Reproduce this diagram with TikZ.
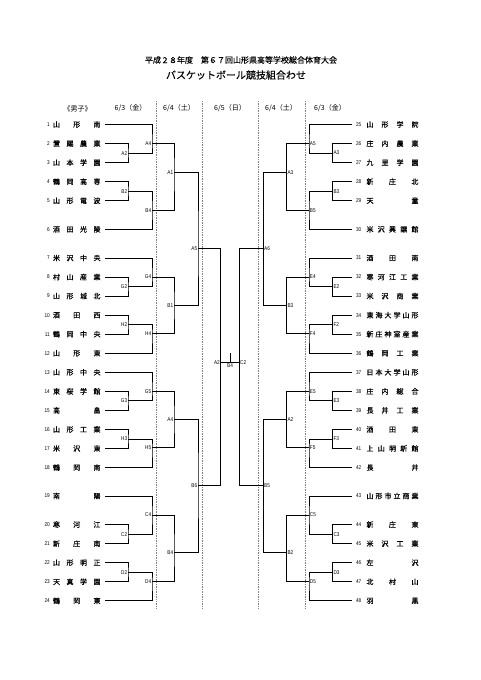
\documentclass[tikz,border=0pt]{standalone}
\usepackage{fontspec}
\newfontfamily\jp{Noto Sans CJK JP}
\newfontfamily\jpb[FakeBold=0.35]{Noto Sans CJK JP}
\newfontfamily\labf[FakeStretch=0.85]{Liberation Sans}
\makeatletter
\newcommand\spreadtext[1]{\let\sp@sep\relax\@tfor\sp@c:=#1\do{\sp@sep\sp@c\let\sp@sep\hfill}}
\makeatother
\tikzset{
  conn/.style={line width=0.9pt, black},
  sepline/.style={gray, densely dotted, line width=0.7pt},
  numL/.style={font=\labf\fontsize{5.5}{6}\selectfont, anchor=east, inner sep=0pt},
  numR/.style={font=\labf\fontsize{5.5}{6}\selectfont, anchor=west, inner sep=0pt, outer xsep=4.3pt, outer ysep=0pt},
  nameL/.style={font=\jpb\fontsize{7}{7}\selectfont, inner sep=0pt, outer xsep=4.25pt, outer ysep=0pt},
  nameR/.style={font=\jpb\fontsize{7}{7}\selectfont, inner sep=0pt},
  jlabL/.style={font=\labf\fontsize{5.5}{6}\selectfont, inner sep=0.4pt, anchor=east},
  jlabR/.style={font=\labf\fontsize{5.5}{6}\selectfont, inner sep=0.4pt, anchor=west},
  head/.style={font=\jp\fontsize{7}{7}\selectfont, inner sep=0pt},
}
\newcommand\lteam[3]{\node[numL] (n#1) at (50,#2) {#1};\node[nameL] (t#1) at (76.75,#2) {\makebox[47.5pt][s]{\spreadtext{#3}}};}
\newcommand\rteam[3]{\node[numR] (n#1) at (351.7,#2) {#1};\node[nameR] (t#1) at (392.5,#2) {\makebox[52pt][s]{\spreadtext{#3}}};}
\newcommand\jL[4]{\coordinate (#1) at (#2,#3);\node[jlabL] at ([xshift=-0.3pt]#1) {#4};}
\newcommand\jR[4]{\coordinate (#1) at (#2,#3);\node[jlabR] at ([xshift=0.3pt]#1) {#4};}
\begin{document}
\begin{tikzpicture}[x=1pt,y=-1pt]
\fill[white] (0,0) rectangle (481,680);
\useasboundingbox (0,0) rectangle (481,680);

% titles
\node[font=\jpb\fontsize{8}{8}\selectfont] (title1) at (241,60) {平成２８年度　第６７回山形県高等学校総合体育大会};
\node[font=\jpb\fontsize{10}{10}\selectfont] (title2) at (236,75) {バスケットボール競技組合わせ};

% headers
\node[head] (hm) at (77.5,108.5) {《男子》};
\node[head] (h1) at (130.5,108.5) {6/3（金）};
\node[head] (h2) at (179,108.5) {6/4（土）};
\node[head] (h3) at (230,108.5) {6/5（日）};
\node[head] (h4) at (281,108.5) {6/4（土）};
\node[head] (h5) at (330,108.5) {6/3（金）};

% dotted separators
\draw[sepline] (156,101) -- (156,609);
\draw[sepline] (202.3,101) -- (202.3,609);
\draw[sepline] (258.3,101) -- (258.3,609);
\draw[sepline] (305,101) -- (305,609);

% left teams
\lteam{1}{124.5}{山形南}
\lteam{2}{143.55}{置賜農業}
\lteam{3}{162.6}{山本学園}
\lteam{4}{181.65}{鶴岡高専}
\lteam{5}{200.7}{山形電波}
\lteam{6}{229.3}{酒田光陵}
\lteam{7}{258.0}{米沢中央}
\lteam{8}{277.05}{村山産業}
\lteam{9}{296.1}{山形城北}
\lteam{10}{315.15}{酒田西}
\lteam{11}{334.2}{鶴岡中央}
\lteam{12}{353.25}{山形東}
\lteam{13}{372.3}{山形中央}
\lteam{14}{391.35}{東桜学館}
\lteam{15}{410.4}{高畠}
\lteam{16}{429.45}{山形工業}
\lteam{17}{448.5}{米沢東}
\lteam{18}{467.55}{鶴岡南}
\lteam{19}{496.0}{南陽}
\lteam{20}{524.6}{寒河江}
\lteam{21}{543.65}{新庄南}
\lteam{22}{562.7}{山形明正}
\lteam{23}{581.75}{天真学園}
\lteam{24}{600.8}{鶴岡東}

% right teams
\rteam{25}{124.5}{山形学院}
\rteam{26}{143.55}{庄内農業}
\rteam{27}{162.6}{九里学園}
\rteam{28}{181.65}{新庄北}
\rteam{29}{200.7}{天童}
\rteam{30}{229.3}{米沢興譲館}
\rteam{31}{258.0}{酒田南}
\rteam{32}{277.05}{寒河江工業}
\rteam{33}{296.1}{米沢商業}
\rteam{34}{315.15}{東海大学山形}
\rteam{35}{334.2}{新庄神室産業}
\rteam{36}{353.25}{鶴岡工業}
\rteam{37}{372.3}{日本大学山形}
\rteam{38}{391.35}{庄内総合}
\rteam{39}{410.4}{長井工業}
\rteam{40}{429.45}{酒田東}
\rteam{41}{448.5}{上山明新館}
\rteam{42}{467.55}{長井}
\rteam{43}{496.0}{山形市立商業}
\rteam{44}{524.6}{新庄東}
\rteam{45}{543.65}{米沢工業}
\rteam{46}{562.7}{左沢}
\rteam{47}{581.75}{北村山}
\rteam{48}{600.8}{羽黒}

% left junctions
\jL{LA2}{128}{153.08}{A2}
\jL{LA4}{152}{143.55}{A4}
\jL{LB2}{128}{191.18}{B2}
\jL{LB4}{152}{210.3}{B4}
\jL{LA1}{174}{172.7}{A1}
\jL{LG2}{128}{286.58}{G2}
\jL{LG4}{152}{277.05}{G4}
\jL{LH2}{128}{324.68}{H2}
\jL{LH4}{152}{333.8}{H4}
\jL{LB1}{174}{305.3}{B1}
\jL{LA5}{198}{248.3}{A5}
\jL{LG3}{128}{400.88}{G3}
\jL{LG5}{152}{391.35}{G5}
\jL{LH3}{128}{438.98}{H3}
\jL{LH5}{152}{447.8}{H5}
\jL{LA4b}{174}{419.5}{A4}
\jL{LC2}{128}{534.13}{C2}
\jL{LC4}{152}{515.0}{C4}
\jL{LD2}{128}{572.23}{D2}
\jL{LD4}{152}{581.75}{D4}
\jL{LB4b}{174}{552.3}{B4}
\jL{LB6}{198}{485.3}{B6}

% right junctions
\jR{RA3}{332.7}{153.08}{A3}
\jR{RA5}{309}{143.55}{A5}
\jR{RB3}{332.7}{191.18}{B3}
\jR{RB5}{309}{210.3}{B5}
\jR{RA3b}{286.7}{172.7}{A3}
\jR{RE2}{332.7}{286.58}{E2}
\jR{RE4}{309}{277.05}{E4}
\jR{RF2}{332.7}{324.68}{F2}
\jR{RF4}{309}{333.8}{F4}
\jR{RB3b}{286.7}{305.3}{B3}
\jR{RA6}{263.3}{248.3}{A6}
\jR{RE3}{332.7}{400.88}{E3}
\jR{RE5}{309}{391.35}{E5}
\jR{RF3}{332.7}{438.98}{F3}
\jR{RF5}{309}{447.8}{F5}
\jR{RA2b}{286.7}{419.5}{A2}
\jR{RC3}{332.7}{534.13}{C3}
\jR{RC5}{309}{515.0}{C5}
\jR{RD3}{332.7}{572.23}{D3}
\jR{RD5}{309}{581.75}{D5}
\jR{RB2b}{286.7}{552.3}{B2}
\jR{RB5b}{263.3}{485.3}{B5}

% final
\jL{FL}{220.7}{362.3}{A2}
\jR{FR}{239.3}{362.3}{C2}
\coordinate (FT) at (230,362.3);
\coordinate (FTtop) at (230,353.3);
\node[font=\labf\fontsize{5.5}{6}\selectfont, inner sep=0pt, anchor=north] (b4lab) at (230,363.8) {B4};

% left connectors
\draw[conn] (t2.east) -| (LA2) |- (t3.east);
\draw[conn] (t1.east) -| (LA4) |- (LA2);
\draw[conn] (t4.east) -| (LB2) |- (t5.east);
\draw[conn] (LB2) -| (LB4) |- (t6.east);
\draw[conn] (LA4) -| (LA1) |- (LB4);
\draw[conn] (t8.east) -| (LG2) |- (t9.east);
\draw[conn] (t7.east) -| (LG4) |- (LG2);
\draw[conn] (t10.east) -| (LH2) |- (t11.east);
\draw[conn] (LH2) -| (LH4) |- (t12.east);
\draw[conn] (LG4) -| (LB1) |- (LH4);
\draw[conn] (LA1) -| (LA5) |- (LB1);
\draw[conn] (t14.east) -| (LG3) |- (t15.east);
\draw[conn] (t13.east) -| (LG5) |- (LG3);
\draw[conn] (t16.east) -| (LH3) |- (t17.east);
\draw[conn] (LH3) -| (LH5) |- (t18.east);
\draw[conn] (LG5) -| (LA4b) |- (LH5);
\draw[conn] (t20.east) -| (LC2) |- (t21.east);
\draw[conn] (t19.east) -| (LC4) |- (LC2);
\draw[conn] (t22.east) -| (LD2) |- (t23.east);
\draw[conn] (LD2) -| (LD4) |- (t24.east);
\draw[conn] (LC4) -| (LB4b) |- (LD4);
\draw[conn] (LA4b) -| (LB6) |- (LB4b);

% right connectors
\draw[conn] (n26.west) -| (RA3) |- (n27.west);
\draw[conn] (n25.west) -| (RA5) |- (RA3);
\draw[conn] (n28.west) -| (RB3) |- (n29.west);
\draw[conn] (RB3) -| (RB5) |- (n30.west);
\draw[conn] (RA5) -| (RA3b) |- (RB5);
\draw[conn] (n32.west) -| (RE2) |- (n33.west);
\draw[conn] (n31.west) -| (RE4) |- (RE2);
\draw[conn] (n34.west) -| (RF2) |- (n35.west);
\draw[conn] (RF2) -| (RF4) |- (n36.west);
\draw[conn] (RE4) -| (RB3b) |- (RF4);
\draw[conn] (RA3b) -| (RA6) |- (RB3b);
\draw[conn] (n38.west) -| (RE3) |- (n39.west);
\draw[conn] (n37.west) -| (RE5) |- (RE3);
\draw[conn] (n40.west) -| (RF3) |- (n41.west);
\draw[conn] (RF3) -| (RF5) |- (n42.west);
\draw[conn] (RE5) -| (RA2b) |- (RF5);
\draw[conn] (n44.west) -| (RC3) |- (n45.west);
\draw[conn] (n43.west) -| (RC5) |- (RC3);
\draw[conn] (n46.west) -| (RD3) |- (n47.west);
\draw[conn] (RD3) -| (RD5) |- (n48.west);
\draw[conn] (RC5) -| (RB2b) |- (RD5);
\draw[conn] (RA2b) -| (RB5b) |- (RB2b);

% final connectors
\draw[conn] (LA5) -| (FL) |- (LB6);
\draw[conn] (RA6) -| (FR) |- (RB5b);
\draw[conn] (FL) -- (FR);
\draw[conn] (FT) -- (FTtop);
\end{tikzpicture}
\end{document}
